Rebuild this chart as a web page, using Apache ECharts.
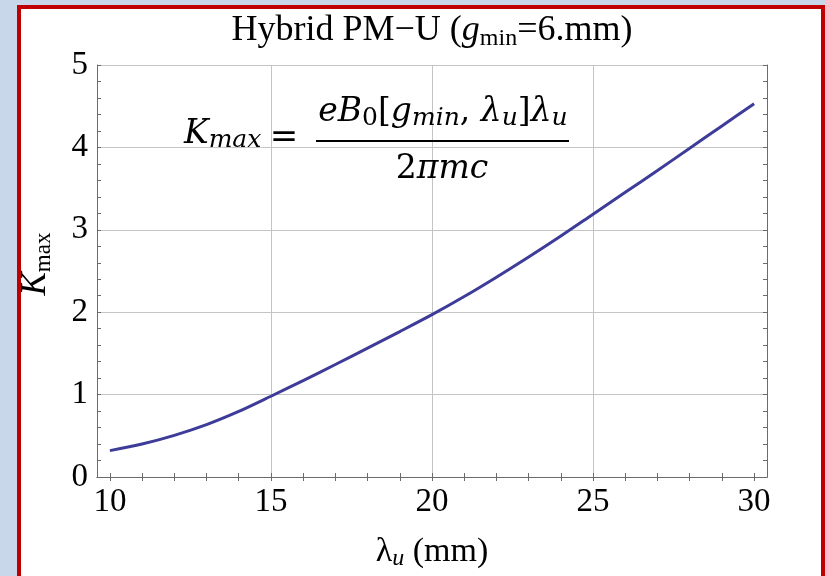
<!DOCTYPE html>
<html>
<head>
<meta charset="utf-8">
<script src="https://cdn.jsdelivr.net/npm/echarts@6/dist/echarts.min.js"></script>
<style>
  html, body { margin: 0; padding: 0; width: 825px; height: 576px; overflow: hidden; background: #c8d8ea; }
  #panel { position: absolute; left: 17px; top: 5px; width: 808px; height: 600px; box-sizing: border-box;
           border: 4px solid #c00000; background: #ffffff; }
  #chart { position: absolute; left: 0; top: 0; width: 825px; height: 576px; }
</style>
</head>
<body>
<div id="panel"></div>
<div id="chart"></div>
<script>
// Undulator period (mm) and the maximum deflection parameter K_max
const lambdaU = [10, 11, 12, 13, 14, 15, 16, 17, 18, 19, 20, 21, 22, 23, 24, 25, 26, 27, 28, 29, 30];
const kMax    = [0.32, 0.40, 0.505, 0.635, 0.795, 0.98, 1.17, 1.365, 1.565, 1.765, 1.97,
                 2.19, 2.425, 2.67, 2.925, 3.19, 3.455, 3.72, 3.99, 4.26, 4.53];

// Axis ticks
const xTickLabels = [10, 15, 20, 25, 30];
const xMinorTicks = [10, 11, 12, 13, 14, 15, 16, 17, 18, 19, 20, 21, 22, 23, 24, 25, 26, 27, 28, 29, 30];
const xGridValues = [15, 20, 25];
const yTickLabels = [0, 1, 2, 3, 4, 5];

const SERIF = '"Liberation Serif", "Times New Roman", serif';
const MATH = '"DejaVu Serif", serif';
const FRAME = '#6b6b6b';
const GRID = '#c4c4c4';

const chart = echarts.init(document.getElementById('chart'), null, { renderer: 'canvas' });

const xRange = { min: 9.6, max: 30.4 };
const grid = { left: 97, right: 58, top: 65, bottom: 97 };

const option = {
  backgroundColor: 'transparent',
  animation: false,
  grid: grid,
  xAxis: [
    {
      type: 'value', position: 'bottom', ...xRange,
      axisLine: { show: true, lineStyle: { color: FRAME, width: 1 } },
      axisTick: { show: true, inside: true, length: 4, customValues: xMinorTicks, lineStyle: { color: FRAME } },
      axisLabel: { customValues: xTickLabels, fontFamily: SERIF, fontSize: 33, color: '#000', margin: 9 },
      splitLine: { show: false },
      name: '{l|λ}{s|u}{n| (mm)}',
      nameLocation: 'middle', nameGap: 56,
      nameTextStyle: {
        rich: {
          l: { fontFamily: SERIF, fontSize: 34, color: '#000', lineHeight: 38 },
          s: { fontFamily: SERIF, fontStyle: 'italic', fontSize: 24, color: '#000', lineHeight: 24, verticalAlign: 'bottom' },
          n: { fontFamily: SERIF, fontSize: 34, color: '#000', lineHeight: 38 }
        }
      }
    },
    {
      type: 'value', position: 'top', ...xRange,
      axisLine: { show: true, lineStyle: { color: FRAME, width: 1 } },
      axisTick: { show: true, inside: true, length: 4, customValues: xMinorTicks, lineStyle: { color: FRAME } },
      axisLabel: { show: false },
      splitLine: { show: false }
    },
    {
      type: 'value', position: 'bottom', ...xRange,
      axisLine: { show: false },
      axisTick: { show: false, customValues: xGridValues },
      axisLabel: { show: false },
      splitLine: { show: true, lineStyle: { color: GRID, width: 1 } }
    }
  ],
  yAxis: [
    {
      type: 'value', position: 'left', min: 0, max: 5, interval: 1,
      axisLine: { show: true, lineStyle: { color: FRAME, width: 1 } },
      axisTick: { show: true, inside: true, length: 4, lineStyle: { color: FRAME } },
      minorTick: { show: true, splitNumber: 5, length: 4, lineStyle: { color: FRAME } },
      axisLabel: {
        fontFamily: SERIF, fontSize: 33, color: '#000', margin: 9,
        formatter: v => (yTickLabels.indexOf(v) >= 0 ? String(v) : '')
      },
      splitLine: { show: true, lineStyle: { color: GRID, width: 1 } },
      name: '{k|K}{s|max}',
      nameLocation: 'middle', nameGap: 42, nameRotate: 90,
      nameTextStyle: {
        padding: [0, 0, 0, 14],
        rich: {
          k: { fontFamily: SERIF, fontStyle: 'italic', fontSize: 35, color: '#000', lineHeight: 38 },
          s: { fontFamily: SERIF, fontSize: 23, color: '#000', lineHeight: 23, verticalAlign: 'bottom' }
        }
      }
    },
    {
      type: 'value', position: 'right', min: 0, max: 5, interval: 1,
      axisLine: { show: true, lineStyle: { color: FRAME, width: 1 } },
      axisTick: { show: true, inside: true, length: 4, lineStyle: { color: FRAME } },
      minorTick: { show: true, splitNumber: 5, length: 4, lineStyle: { color: FRAME } },
      axisLabel: { show: false },
      splitLine: { show: false }
    }
  ],
  series: [
    {
      type: 'line',
      xAxisIndex: 0, yAxisIndex: 0,
      data: lambdaU.map((x, i) => [x, kMax[i]]),
      smooth: 0.3,
      showSymbol: false,
      lineStyle: { color: '#3d3d99', width: 3 },
      z: 5
    }
  ],
  graphic: [
    // Plot title
    {
      type: 'text', x: 432, y: 31, z: 10,
      style: {
        text: '{a|Hybrid PM−U (}{g|g}{s|min}{a|=6.mm)}',
        align: 'center', verticalAlign: 'middle',
        rich: {
          a: { fontFamily: SERIF, fontSize: 36, fill: '#000', lineHeight: 40 },
          g: { fontFamily: SERIF, fontStyle: 'italic', fontSize: 36, fill: '#000', lineHeight: 40 },
          s: { fontFamily: SERIF, fontSize: 24, fill: '#000', lineHeight: 24, verticalAlign: 'bottom' }
        }
      }
    },
    // Formula: K_max = e B0[g_min, λu] λu / (2π m c)
    {
      type: 'text', x: 184, y: 134, z: 10,
      style: {
        text: '{k|K}{s|max}',
        align: 'left', verticalAlign: 'middle',
        rich: {
          k: { fontFamily: MATH, fontStyle: 'italic', fontSize: 33, fill: '#000', lineHeight: 38 },
          s: { fontFamily: MATH, fontStyle: 'italic', fontSize: 25, fill: '#000', lineHeight: 25, verticalAlign: 'bottom' }
        }
      }
    },
    {
      type: 'text', x: 284, y: 138, z: 10,
      style: { text: '=', align: 'center', verticalAlign: 'middle', fontFamily: MATH, fontSize: 34, fill: '#000' }
    },
    {
      type: 'text', x: 443, y: 112, z: 10,
      style: {
        text: '{i|eB}{u|0}{r|[}{i|g}{s|min}{r|, }{i|λ}{s|u}{r|]}{i|λ}{s|u}',
        align: 'center', verticalAlign: 'middle',
        rich: {
          i: { fontFamily: MATH, fontStyle: 'italic', fontSize: 33, fill: '#000', lineHeight: 38 },
          r: { fontFamily: MATH, fontSize: 33, fill: '#000', lineHeight: 38 },
          u: { fontFamily: MATH, fontSize: 25, fill: '#000', lineHeight: 25, verticalAlign: 'bottom' },
          s: { fontFamily: MATH, fontStyle: 'italic', fontSize: 25, fill: '#000', lineHeight: 25, verticalAlign: 'bottom' }
        }
      }
    },
    {
      type: 'line', z: 10,
      shape: { x1: 316, y1: 141, x2: 569, y2: 141 },
      style: { stroke: '#000', lineWidth: 2 }
    },
    {
      type: 'text', x: 442, y: 169, z: 10,
      style: {
        text: '{r|2}{i|πmc}',
        align: 'center', verticalAlign: 'middle',
        rich: {
          r: { fontFamily: MATH, fontSize: 33, fill: '#000', lineHeight: 38 },
          i: { fontFamily: MATH, fontStyle: 'italic', fontSize: 33, fill: '#000', lineHeight: 38 }
        }
      }
    }
  ]
};

chart.setOption(option);
</script>
</body>
</html>
